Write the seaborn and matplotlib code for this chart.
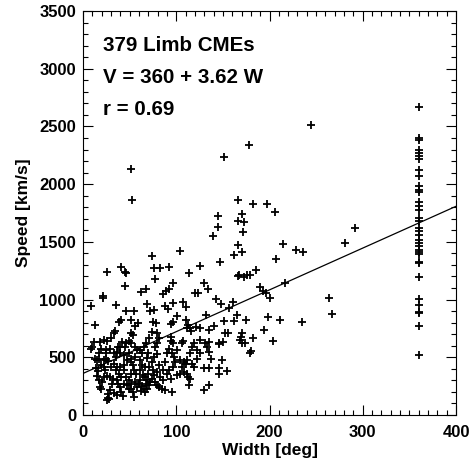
import pandas as pd
import seaborn as sns
import matplotlib.pyplot as plt
from matplotlib.ticker import MultipleLocator

# CME angular width [deg] and speed [km/s]
width = [
    245, 178, 151, 51, 53, 166, 182, 197, 206, 170, 173, 166, 145, 145, 139, 172,
    292, 281, 214, 228, 236, 166, 171, 162, 207, 147, 104, 74, 126, 92, 83, 76,
    41, 45, 46, 26, 114, 186, 167, 166, 176, 179, 173, 77, 130, 217, 96, 45,
    120, 123, 134, 62, 68, 92, 89, 86, 190, 193, 196, 201, 264, 267, 235, 211,
    198, 194, 204, 182, 180, 179, 21, 21, 9, 35, 13, 143, 148, 161, 157, 165,
    151, 162, 175, 141, 152, 156, 171, 135, 121, 126, 107, 110, 97, 88, 91, 69,
    76, 72, 46, 55, 41, 39, 51, 59, 56, 75, 78, 96, 94, 101, 110, 113,
    112, 115, 116, 132, 146, 150, 169, 171, 174, 168,
    9, 10, 12, 18, 22, 26, 30, 33, 34, 37, 25, 19, 17, 17, 15, 22,
    25, 27, 14, 16, 15, 17, 26, 29, 32, 18, 19, 29, 27, 27, 26, 28,
    33, 36, 41, 43, 40, 44, 49, 52, 55, 54, 36, 35, 39, 41, 44, 47,
    49, 45, 46, 49, 51, 54, 52, 56, 58, 61, 56, 52, 51, 54, 55, 57,
    51, 46, 49, 44, 40, 61, 63, 66, 61, 64, 66, 69, 61, 60, 63, 65,
    62, 66, 69, 71, 72, 74, 76, 77, 79, 81, 85, 88, 95, 71, 74, 76,
    79, 77, 79, 81, 79, 74, 71, 68, 65, 63, 70, 69, 82, 86, 88, 90,
    92, 94, 94, 97, 95, 98, 99, 97, 92, 90, 94, 101, 104, 108, 106, 108,
    111, 113, 115, 114, 110, 112, 115, 117, 107, 106, 119, 122, 126, 126, 131, 133,
    135, 137, 135, 130, 135, 130, 135, 146, 146, 149, 154, 146, 13, 19, 22, 24,
    30, 33, 35, 36, 33, 29, 25, 40, 42, 40, 44, 119, 122, 117, 104, 101,
    83, 86, 79, 75, 70, 68, 58, 56, 52, 47, 38, 36, 31, 22, 20,
]
speed = [
    2510, 2340, 2235, 2130, 1860, 1865, 1825, 1830, 1755, 1745, 1668, 1680, 1720, 1633, 1555, 1587,
    1616, 1486, 1483, 1428, 1410, 1474, 1410, 1384, 1355, 1329, 1425, 1381, 1294, 1286, 1277, 1271,
    1286, 1242, 1231, 1239, 1231, 1254, 1216, 1202, 1216, 1210, 1199, 1176, 1147, 1147, 1141, 1115,
    1054, 1054, 1092, 1069, 1089, 1089, 1072, 1051, 1106, 1072, 1054, 1011, 1011, 877, 808, 822,
    849, 733, 643, 669, 553, 533, 1034, 1017, 947, 956, 782, 1002, 962, 982, 924, 869,
    817, 817, 822, 770, 712, 712, 712, 736, 762, 750, 982, 938, 967, 947, 918, 964,
    909, 904, 904, 901, 822, 802, 822, 794, 770, 805, 799, 802, 788, 857, 822, 779,
    750, 750, 727, 866, 620, 634, 672, 620, 620, 649,
    568, 585, 634, 634, 649, 643, 663, 707, 730, 591, 562, 576, 533, 481, 475, 475,
    481, 466, 403, 385, 342, 307, 336, 330, 316, 243, 223, 214, 185, 148, 127, 136,
    191, 171, 200, 168, 243, 272, 229, 223, 156, 200, 417, 388, 359, 330, 431, 475,
    533, 591, 620, 643, 707, 692, 626, 591, 562, 562, 504, 489, 460, 431, 388, 359,
    353, 330, 301, 388, 417, 475, 431, 417, 388, 345, 330, 301, 301, 266, 249, 223,
    209, 200, 229, 258, 287, 316, 345, 287, 258, 243, 229, 214, 200, 417, 460, 504,
    527, 591, 620, 663, 707, 721, 663, 620, 591, 533, 533, 498, 431, 388, 460, 533,
    576, 643, 678, 620, 533, 504, 460, 417, 388, 359, 316, 562, 475, 460, 417, 374,
    359, 330, 316, 258, 446, 475, 533, 591, 643, 620, 620, 562, 533, 649, 620, 591,
    547, 489, 634, 403, 411, 214, 258, 403, 359, 475, 382, 614, 489, 431, 417, 388,
    417, 446, 504, 547, 533, 576, 533, 591, 634, 533, 518, 417, 489, 446, 359, 345,
    330, 301, 374, 388, 359, 272, 243, 287, 272, 258, 272, 301, 272, 330, 287,
]
# full-width (360 deg) CMEs
halo_width = 360
halo_speed = [
    2667, 2401, 2386, 2294, 2270, 2242, 2218, 2126, 2068, 1981, 1952, 1929, 1848, 1807, 1778, 1706,
    1677, 1619, 1590, 1561, 1518, 1489, 1460, 1431, 1416, 1396, 1329, 1315, 1193, 1002, 953, 895,
    880, 773, 524,
]

n_cmes = 379
fit_intercept = 360
fit_slope = 3.62
fit_r = 0.69

df = pd.DataFrame({
    "width": width + [halo_width] * len(halo_speed),
    "speed": speed + halo_speed,
})

sns.set_style("ticks")
plt.rcParams["font.family"] = ["Liberation Sans", "DejaVu Sans"]
plt.rcParams["font.weight"] = "bold"
plt.rcParams["axes.labelweight"] = "bold"
for key in ["text.color", "axes.labelcolor", "xtick.color", "ytick.color", "axes.edgecolor"]:
    plt.rcParams[key] = "black"

fig = plt.figure(figsize=(4.73, 4.58), dpi=100)
ax = fig.add_axes([83 / 473, 43 / 458, 373 / 473, 404 / 458])

sns.scatterplot(data=df, x="width", y="speed", marker="+", color="black",
                s=38, linewidth=1.3, ax=ax, legend=False)

fit_x = [0, 400]
fit_y = [fit_intercept + fit_slope * w for w in fit_x]
ax.plot(fit_x, fit_y, color="black", linewidth=0.9)

ax.set_xlim(0, 400)
ax.set_ylim(0, 3500)
ax.xaxis.set_major_locator(MultipleLocator(100))
ax.xaxis.set_minor_locator(MultipleLocator(10))
ax.yaxis.set_major_locator(MultipleLocator(500))
ax.yaxis.set_minor_locator(MultipleLocator(100))
ax.tick_params(which="both", direction="in", top=True, right=True,
               width=0.8, color="black", labelsize=12)
ax.tick_params(axis="x", which="major", length=7, pad=7)
ax.tick_params(axis="y", which="major", length=7, pad=5)
ax.tick_params(which="minor", length=3.5)
for lab in ax.get_xticklabels() + ax.get_yticklabels():
    lab.set_fontweight("bold")
for sp in ax.spines.values():
    sp.set_visible(True)
    sp.set_linewidth(0.8)
    sp.set_color("black")

ax.set_xlabel("Width [deg]", fontsize=12.5, labelpad=2)
ax.set_ylabel("Speed [km/s]", fontsize=12.5, labelpad=6)

ax.text(0.053, 0.902, f"{n_cmes} Limb CMEs", transform=ax.transAxes,
        fontsize=14.8, fontweight="bold", va="baseline")
ax.text(0.053, 0.822, f"V = {fit_intercept} + {fit_slope} W", transform=ax.transAxes,
        fontsize=14.8, fontweight="bold", va="baseline")
ax.text(0.053, 0.743, f"r = {fit_r}", transform=ax.transAxes,
        fontsize=14.8, fontweight="bold", va="baseline")

fig.savefig("out.png", dpi=100)
